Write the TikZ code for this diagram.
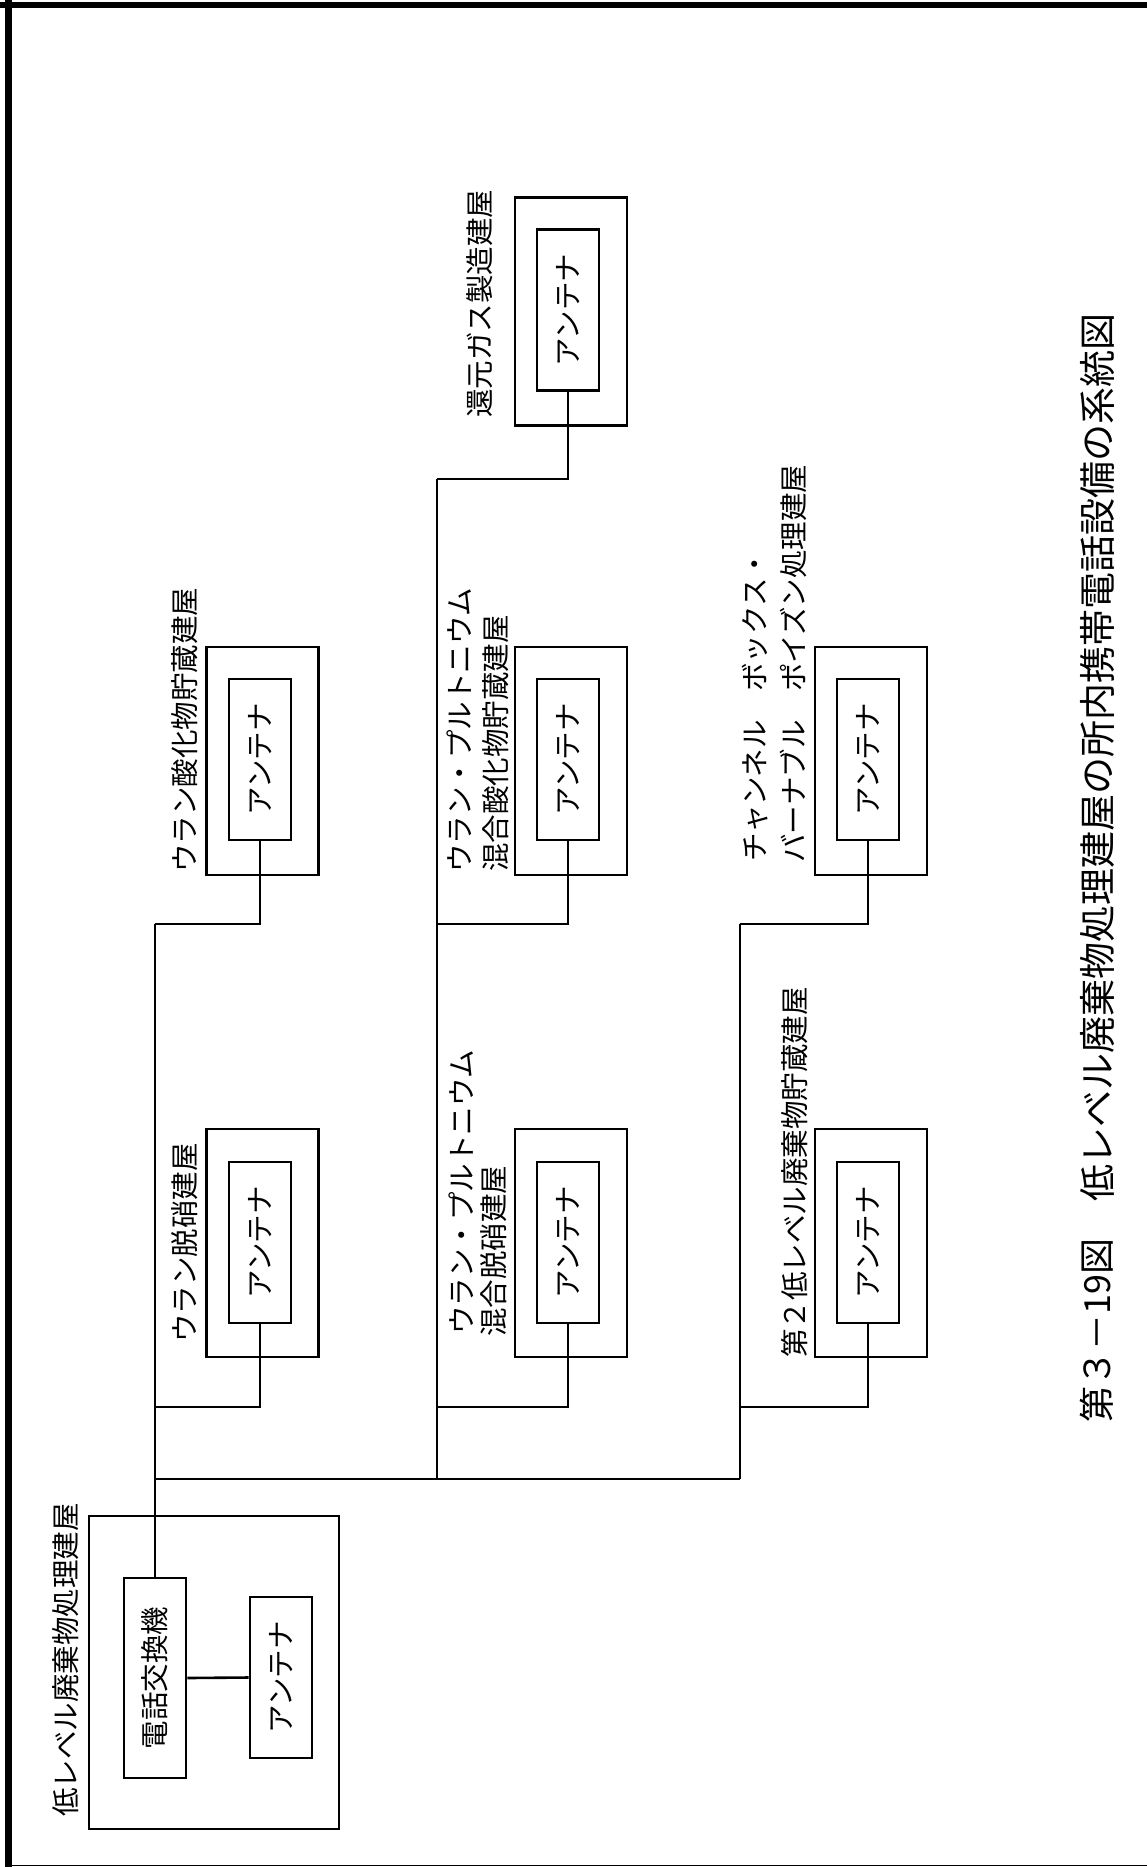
\documentclass[tikz,border=0pt]{standalone}
\usepackage{fontspec}
\setmainfont{Noto Sans CJK JP}
\newcommand\lblsize{\fontsize{28.5}{38}\selectfont}
\newcommand\capsize{\fontsize{36}{40}\selectfont}
\tikzset{
  lw/.style={line width=2.6pt},
  outerbox/.style={draw, lw, minimum width=112pt, minimum height=228pt, inner sep=0pt},
  antbox/.style={draw, lw, minimum width=62pt, minimum height=161pt, inner sep=0pt, font=\lblsize},
  lbl/.style={inner sep=0pt, font=\lblsize, anchor=south},
  capt/.style={inner sep=0pt, font=\capsize, anchor=south},
  conn/.style={lw, line join=miter}
}
\begin{document}
\begin{tikzpicture}[x=1pt,y=-1pt]
\useasboundingbox (0,0) rectangle (1147,1867);
% frame
\fill (0,2) rectangle (1147,8);
\fill (5,0) rectangle (12,1867);
\draw[line width=1.5pt] (5,1865.5) -- (1147,1865.5);

% low-level waste treatment building
\node[draw, lw, minimum width=250pt, minimum height=313pt, inner sep=0pt] (llo) at (214,1672.5) {};
\node[draw, lw, minimum width=62pt, minimum height=200pt, inner sep=0pt, font=\lblsize] (sw) at (155,1678) {\rotatebox{90}{電話交換機}};
\node[antbox] (sa) at (281,1677.5) {\rotatebox{90}{アンテナ}};
\node[lbl] (tll) at (66,1817) {\rotatebox{90}{低レベル廃棄物処理建屋}};

% column 1
\node[outerbox] (o1t) at (262.5,761) {};
\node[antbox] (a1t) at (260,759.5) {\rotatebox{90}{アンテナ}};
\node[lbl] (t1t) at (185,873) {\rotatebox{90}{ウラン酸化物貯蔵建屋}};
\node[outerbox] (o1b) at (262.5,1243) {};
\node[antbox] (a1b) at (260,1242.5) {\rotatebox{90}{アンテナ}};
\node[lbl] (t1b) at (185,1343) {\rotatebox{90}{ウラン脱硝建屋}};

% column 2
\node[outerbox] (o2r) at (571,311.5) {};
\node[antbox] (a2r) at (568,310) {\rotatebox{90}{アンテナ}};
\node[lbl] (t2r) at (480,418) {\rotatebox{90}{還元ガス製造建屋}};
\node[outerbox] (o2t) at (571,761) {};
\node[antbox] (a2t) at (568,759.5) {\rotatebox{90}{アンテナ}};
\node[lbl] (t2ta) at (459,873) {\rotatebox{90}{ウラン・プルトニウム}};
\node[lbl] (t2tb) at (496,872) {\rotatebox{90}{混合酸化物貯蔵建屋}};
\node[outerbox] (o2b) at (571,1243) {};
\node[antbox] (a2b) at (568,1242.5) {\rotatebox{90}{アンテナ}};
\node[lbl] (t2ba) at (461,1335) {\rotatebox{90}{ウラン・プルトニウム}};
\node[lbl] (t2bb) at (494,1337) {\rotatebox{90}{混合脱硝建屋}};

% column 3
\node[outerbox] (o3t) at (871,761) {};
\node[antbox] (a3t) at (868,759.5) {\rotatebox{90}{アンテナ}};
\node[lbl] (t3ta) at (755,862) {\rotatebox{90}{チャンネル　ボックス・}};
\node[lbl] (t3tb) at (793,863) {\rotatebox{90}{バーナブル　ポイズン処理建屋}};
\node[outerbox] (o3b) at (871,1243) {};
\node[antbox] (a3b) at (868,1242.5) {\rotatebox{90}{アンテナ}};
\node[lbl] (t3b) at (795,1358) {\rotatebox{90}{第２低レベル廃棄物貯蔵建屋}};

% junction coordinates
\coordinate (k1) at (155,924);
\coordinate (m1) at (155,1407);
\coordinate (b0) at (155,1479);
\coordinate (b2) at (437,1479);
\coordinate (b3) at (740,1479);
\coordinate (k2) at (437,479);
\coordinate (m2t) at (437,924);
\coordinate (m2b) at (437,1407);
\coordinate (k3) at (740,924);
\coordinate (m3b) at (740,1407);

% connectors
\draw[conn] (sw.east) -- (sa.west);
\draw[conn] (sw.north) -- (k1);
\draw[conn] (k1) -| (a1t.south);
\draw[conn] (m1) -| (a1b.south);
\draw[conn] (b0) -- (b3);
\draw[conn] (b2) -- (k2);
\draw[conn] (k2) -| (a2r.south);
\draw[conn] (m2t) -| (a2t.south);
\draw[conn] (m2b) -| (a2b.south);
\draw[conn] (b3) -- (k3);
\draw[conn] (k3) -| (a3t.south);
\draw[conn] (m3b) -| (a3b.south);

% caption
\node[capt] (cap1) at (1097,1423) {\rotatebox{90}{第３－19図}};
\node[capt, font=\fontsize{37}{40}\selectfont] (cap2) at (1097,1202) {\rotatebox{90}{低レベル廃棄物処理建屋の所内携帯電話設備の系統図}};
\end{tikzpicture}
\end{document}
